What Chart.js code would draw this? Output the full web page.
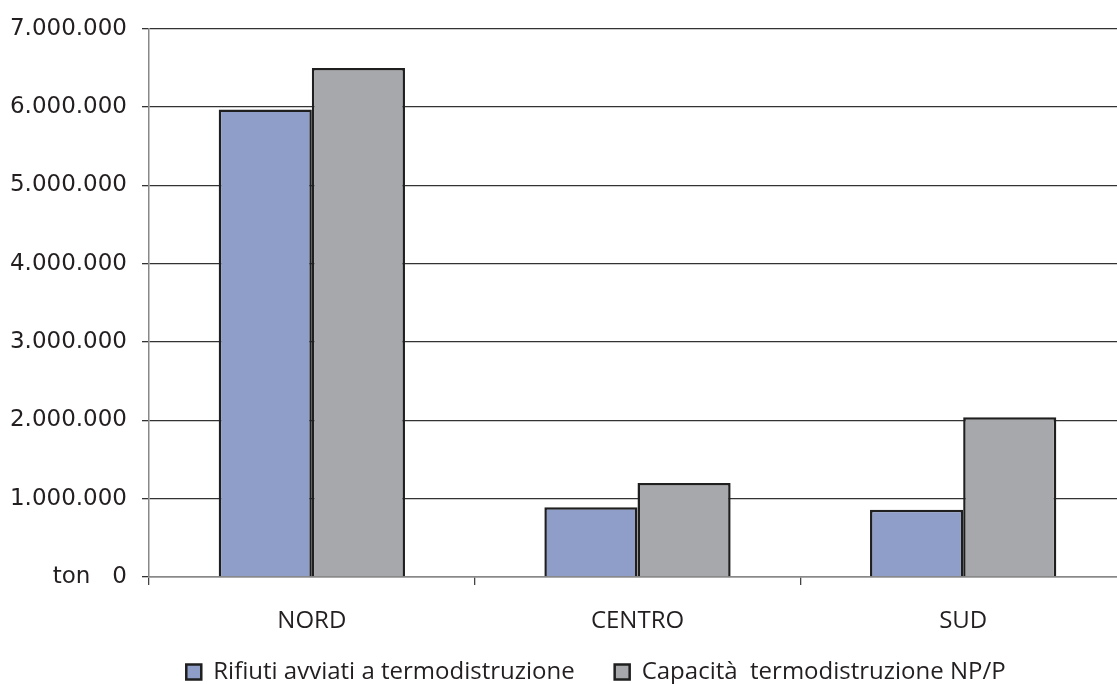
<!DOCTYPE html>
<html>
<head>
<meta charset="utf-8">
<script src="https://cdn.jsdelivr.net/npm/chart.js@4.4.1/dist/chart.umd.min.js"></script>
<style>
  html, body { margin:0; padding:0; background:#fff; overflow:hidden; }
  #wrap { width:1126px; height:684px; position:relative; }
</style>
</head>
<body>
<div id="wrap"><canvas id="chart"></canvas></div>
<script>
// ---- DATI ----
const regioni = ['NORD', 'CENTRO', 'SUD'];
const rifiutiAvviati = [5970000, 890000, 860000];
const capacitaNPP = [6500000, 1200000, 2040000];
const nomiSerie = ['Rifiuti avviati a termodistruzione', 'Capacità  termodistruzione NP/P'];
const yMax = 7000000;
const yStep = 1000000;
const unita = 'ton';

// ---- STILE ----
const colBlu = '#8f9ec9';
const colGrigio = '#a7a8ab';
const colBordo = '#1f1f1f';
const LEGEND_DX = 33;     // spostamento orizzontale legenda
const LEGEND_TOP = 620;   // posizione verticale legenda
const LEGEND_BOTTOM = 684;

function fmtIt(n){
  return String(n).replace(/\B(?=(\d{3})+(?!\d))/g, '.');
}

// sposta la legenda come nell'originale
const moveLegend = {
  id:'moveLegend',
  afterLayout(chart){
    const l = chart.legend;
    if(!l) return;
    l.left += LEGEND_DX;
    l.right += LEGEND_DX;
    l.top = LEGEND_TOP;
    l.bottom = LEGEND_BOTTOM;
    l.height = LEGEND_BOTTOM - LEGEND_TOP;
  }
};

const ctx = document.getElementById('chart').getContext('2d');
new Chart(ctx, {
  type:'bar',
  data:{
    labels:regioni,
    datasets:[
      { label:nomiSerie[0], data:rifiutiAvviati, backgroundColor:colBlu, borderColor:colBordo, borderWidth:2.5 },
      { label:nomiSerie[1], data:capacitaNPP, backgroundColor:colGrigio, borderColor:colBordo, borderWidth:2.5 }
    ]
  },
  options:{
    responsive:true,
    maintainAspectRatio:false,
    animation:false,
    categoryPercentage:0.572,
    barPercentage:1.0,
    layout:{ padding:{ top:23, left:0, right:0, bottom:0 } },
    plugins:{
      tooltip:{ enabled:false },
      legend:{
        position:'bottom',
        maxHeight:47,
        labels:{
          color:'#231f20',
          font:{ family:'"Open Sans", sans-serif', size:24 },
          boxWidth:15,
          boxHeight:15,
          padding:40
        }
      }
    },
    scales:{
      x:{
        afterFit(scale){ scale.height = 60; },
        grid:{ drawOnChartArea:false, drawTicks:true, tickLength:8, color:'#444', lineWidth:1.3 },
        border:{ color:'#888', width:1.5 },
        ticks:{
          color:'#231f20',
          padding:22,
          font:{ family:'"Open Sans", sans-serif', size:24 }
        }
      },
      y:{
        min:0,
        max:yMax,
        afterFit(scale){ scale.width = 149; },
        grid:{ color:'#333', lineWidth:1.3, drawTicks:true, tickLength:7 },
        border:{ color:'#888', width:1.5 },
        ticks:{
          stepSize:yStep,
          color:'#231f20',
          padding:15,
          font:{ family:'"DejaVu Sans", sans-serif', size:23 },
          callback:(v) => v === 0 ? unita + '   0' : fmtIt(v)
        }
      }
    }
  },
  plugins:[moveLegend]
});
</script>
</body>
</html>
